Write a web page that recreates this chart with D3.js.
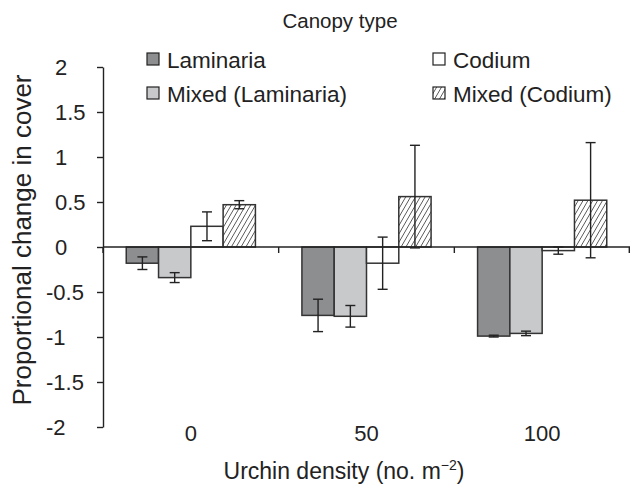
<!DOCTYPE html>
<html>
<head>
<meta charset="utf-8">
<script src="https://cdn.jsdelivr.net/npm/d3@7"></script>
<style>
  body { margin: 0; background: #fff; }
  svg { font-family: "Liberation Sans", Arial, sans-serif; }
</style>
</head>
<body>
<div id="chart"></div>
<script>
// data
let densities = ["0", "50", "100"];
let series = ["Laminaria", "Mixed (Laminaria)", "Codium", "Mixed (Codium)"];
let laminaria = [-0.18, -0.76, -0.99];
let mixedLaminaria = [-0.34, -0.77, -0.96];
let codium = [0.23, -0.18, -0.04];
let mixedCodium = [0.47, 0.56, 0.52];
let laminariaErr = [0.07, 0.18, 0.01];
let mixedLaminariaErr = [0.055, 0.12, 0.025];
let codiumErr = [0.16, 0.29, 0.04];
let mixedCodiumErr = [0.045, 0.57, 0.64];
let yTicks = [-2, -1.5, -1, -0.5, 0, 0.5, 1, 1.5, 2];

let width = 630, height = 489;
let margin = {left: 103, right: 0, top: 67, bottom: 62};

let means = [laminaria, mixedLaminaria, codium, mixedCodium];
let errs = [laminariaErr, mixedLaminariaErr, codiumErr, mixedCodiumErr];
let fills = {"Laminaria": "#8d8e90", "Mixed (Laminaria)": "#c8c9cb", "Codium": "#ffffff", "Mixed (Codium)": "url(#hatch)"};

let rows = [];
densities.forEach(function(d, i) {
    series.forEach(function(s, j) {
        rows.push({density: d, series: s, value: means[j][i], err: errs[j][i]});
    });
});

let svg = d3.select("#chart").append("svg")
    .attr("width", width)
    .attr("height", height);

// hatch for the mixed codium bars
let pat = svg.append("defs").append("pattern")
    .attr("id", "hatch")
    .attr("patternUnits", "userSpaceOnUse")
    .attr("width", 4.2).attr("height", 4.2)
    .attr("patternTransform", "rotate(30)");
pat.append("rect").attr("width", 4.2).attr("height", 4.2).attr("fill", "#fff");
pat.append("line").attr("x1", 0).attr("y1", 0).attr("x2", 0).attr("y2", 4.2)
    .attr("stroke", "#333").attr("stroke-width", 1.4);

let x = d3.scaleBand()
    .domain(densities)
    .range([margin.left, width - margin.right]);

let xInner = d3.scaleBand()
    .domain(series)
    .range([0, x.bandwidth()])
    .paddingOuter(0.72);

let y = d3.scaleLinear()
    .domain([-2, 2])
    .range([height - margin.bottom, margin.top]);

// bars
svg.append("g").selectAll("rect")
    .data(rows)
    .join("rect")
    .attr("x", d => x(d.density) + xInner(d.series))
    .attr("width", xInner.bandwidth())
    .attr("y", d => y(Math.max(0, d.value)))
    .attr("height", d => Math.abs(y(d.value) - y(0)))
    .attr("fill", d => fills[d.series])
    .attr("stroke", "#333")
    .attr("stroke-width", 1.5);

// error bars
let eb = svg.append("g").attr("stroke", "#222").attr("stroke-width", 1.4)
    .selectAll("g").data(rows).join("g")
    .attr("transform", d => "translate(" + (x(d.density) + xInner(d.series) + xInner.bandwidth() / 2) + ",0)");
eb.append("line")
    .attr("y1", d => y(d.value + d.err))
    .attr("y2", d => y(d.value - d.err));
eb.append("line").attr("x1", -5).attr("x2", 5)
    .attr("y1", d => y(d.value + d.err)).attr("y2", d => y(d.value + d.err));
eb.append("line").attr("x1", -5).attr("x2", 5)
    .attr("y1", d => y(d.value - d.err)).attr("y2", d => y(d.value - d.err));

// y axis
let yAxis = svg.append("g")
    .attr("transform", "translate(" + margin.left + ",0)")
    .call(d3.axisLeft(y).tickValues(yTicks).tickSize(6).tickSizeOuter(0)
        .tickFormat(d => d < 0 ? "-" + Math.abs(d) : d));
yAxis.select(".domain").attr("stroke", "#222").attr("stroke-width", 1.4);
yAxis.selectAll(".tick line").attr("stroke", "#222").attr("stroke-width", 1.4);
yAxis.selectAll(".tick text")
    .attr("text-anchor", "start")
    .attr("x", d => d < 0 ? -57 : -48)
    .attr("font-size", 22)
    .attr("fill", "#222");

// x axis along zero, ticks at the group boundaries
let xAxis = svg.append("g")
    .attr("transform", "translate(0," + y(0) + ")");
xAxis.append("line")
    .attr("x1", x.range()[0]).attr("x2", x.range()[1])
    .attr("stroke", "#222").attr("stroke-width", 1.4);
xAxis.selectAll(".bnd")
    .data(densities.map(d => x(d)).concat([x.range()[1] - 0.7]))
    .join("line")
    .attr("class", "bnd")
    .attr("x1", d => d).attr("x2", d => d)
    .attr("y1", 0).attr("y2", 6)
    .attr("stroke", "#222").attr("stroke-width", 1.4);

// category labels
svg.append("g").selectAll("text")
    .data(densities)
    .join("text")
    .attr("x", d => x(d) + x.bandwidth() / 2)
    .attr("y", 441)
    .attr("text-anchor", "middle")
    .attr("font-size", 22)
    .attr("fill", "#222")
    .text(d => d);

// axis titles
let xt = svg.append("text")
    .attr("x", 344)
    .attr("y", 479)
    .attr("text-anchor", "middle")
    .attr("font-size", 23)
    .attr("fill", "#222");
xt.append("tspan").text("Urchin density (no. m");
xt.append("tspan").attr("font-size", 14).attr("dy", -9).text("\u22122");
xt.append("tspan").attr("dy", 9).text(")");

svg.append("text")
    .attr("transform", "translate(31,240) rotate(-90)")
    .attr("text-anchor", "middle")
    .attr("font-size", 26)
    .attr("fill", "#222")
    .text("Proportional change in cover");

// legend
svg.append("text")
    .attr("x", 340)
    .attr("y", 28)
    .attr("text-anchor", "middle")
    .attr("font-size", 20.5)
    .attr("fill", "#222")
    .text("Canopy type");

let legendPos = {
    "Laminaria": [147, 67],
    "Codium": [433, 67],
    "Mixed (Laminaria)": [147, 101],
    "Mixed (Codium)": [433, 101]
};
let legend = svg.append("g").selectAll("g")
    .data(series)
    .join("g")
    .attr("transform", d => "translate(" + legendPos[d][0] + "," + legendPos[d][1] + ")");
legend.append("rect")
    .attr("x", 0).attr("y", -14)
    .attr("width", 12).attr("height", 12)
    .attr("fill", d => fills[d])
    .attr("stroke", "#222")
    .attr("stroke-width", 1.2);
legend.append("text")
    .attr("x", 20)
    .attr("y", 1)
    .attr("font-size", 22.5)
    .attr("fill", "#222")
    .text(d => d);
</script>
</body>
</html>
